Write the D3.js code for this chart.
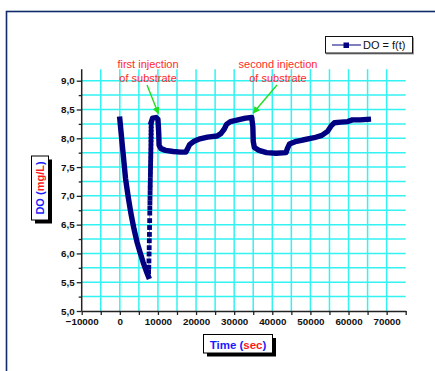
<!DOCTYPE html>
<html>
<head>
<meta charset="utf-8">
<script src="https://cdn.jsdelivr.net/npm/d3@7"></script>
<style>
  html, body { margin: 0; padding: 0; background: #fff; }
  svg { display: block; font-family: "Liberation Sans", Arial, sans-serif; }
</style>
</head>
<body>
<svg id="chart" width="435" height="371"></svg>
<script>
// Dissolved oxygen (mg/L) against time (s)

// Oxygen consumption after start-up
const decayTime = [0, 700, 1500, 2200, 2900, 3700, 4500, 5300, 6100, 6900, 7500];
const decayDO   = [8.33, 7.85, 7.30, 6.98, 6.70, 6.43, 6.20, 6.02, 5.85, 5.70, 5.60];

// Fast re-aeration right after the first substrate injection
const riseTime = [7550, 7600, 7640, 7680, 7710, 7740, 7770, 7800, 7830, 7860,
                  7880, 7900, 7920, 7940, 7960, 7980, 8000, 8020, 8040, 8060,
                  8080, 8100, 8120, 8140, 8160, 8175, 8190, 8200, 8210, 8220, 8230];
const riseDO   = [5.68, 5.76, 5.87, 5.99, 6.10, 6.22, 6.33, 6.45, 6.57, 6.70,
                  6.79, 6.88, 6.96, 7.05, 7.13, 7.20, 7.28, 7.36, 7.43, 7.50,
                  7.57, 7.64, 7.71, 7.78, 7.85, 7.92, 7.98, 8.04, 8.10, 8.16, 8.22];

// Remainder of the run
const restTime = [8250, 8600, 9500, 10000, 10200, 10300, 10800, 12000, 14000, 16000,
                  17300, 17800, 18300, 19500, 21000, 23000, 25500, 26500, 27300, 28000,
                  29000, 31000, 33000, 34600, 34900, 35000, 35300, 36500, 38500, 41000,
                  43600, 44000, 44500, 46000, 48000, 51000, 53000, 54500, 55500, 56300,
                  58000, 59800, 61000, 63000, 65200];
const restDO   = [8.28, 8.35, 8.36, 8.33, 8.10, 7.88, 7.82, 7.79, 7.77, 7.76,
                  7.76, 7.82, 7.89, 7.95, 7.99, 8.02, 8.04, 8.08, 8.15, 8.24,
                  8.29, 8.32, 8.35, 8.36, 8.20, 7.95, 7.84, 7.79, 7.75, 7.74,
                  7.75, 7.83, 7.90, 7.94, 7.97, 8.01, 8.05, 8.12, 8.22, 8.27,
                  8.28, 8.29, 8.32, 8.32, 8.33];

// Axis ticks
const xTicks = d3.range(-10000, 75001, 5000);
const xLabelTicks = [-10000, 0, 10000, 20000, 30000, 40000, 50000, 60000, 70000];
const yTicks = d3.range(5, 9.001, 0.25);
const yLabelTicks = [5.0, 5.5, 6.0, 6.5, 7.0, 7.5, 8.0, 8.5, 9.0];

// Annotations: label lines, label anchor time/DO, arrow target time/DO
const notes = [
  { lines: ["first injection", "of substrate"], at: [7400, 9.22], tip: [10100, 8.43] },
  { lines: ["second injection", "of substrate"], at: [41500, 9.22], tip: [35000, 8.44] }
];

const svg = d3.select("#chart");
const navy = "#000080";

// Page frame
svg.append("rect")
  .attr("x", 6.5).attr("y", 11.5).attr("width", 440).attr("height", 370)
  .attr("fill", "none").attr("stroke", "#102a6a").attr("stroke-width", 1.6);

const x = d3.scaleLinear().domain([-10000, 75000]).range([81.7, 405.7]);
const y = d3.scaleLinear().domain([5, 9.2]).range([311, 69.2]);

// Grid
const grid = svg.append("g").attr("stroke", "#33f2f2").attr("stroke-width", 1.5);
grid.selectAll("line.h").data(yTicks.filter(v => v > 5)).join("line")
  .attr("class", "h")
  .attr("x1", x(-10000)).attr("x2", x(75000))
  .attr("y1", d => y(d)).attr("y2", d => y(d));
grid.selectAll("line.v").data(xTicks.filter(t => t > -10000 && t < 75000)).join("line")
  .attr("class", "v")
  .attr("y1", y(5)).attr("y2", y(9.2))
  .attr("x1", d => x(d)).attr("x2", d => x(d));

// Axes
const fmtY = d => d3.format(".1f")(d).replace(".", ",");
const xAxis = d3.axisBottom(x).tickValues(xTicks).tickSize(4).tickSizeOuter(0).tickPadding(3)
  .tickFormat(d => xLabelTicks.includes(d) ? d3.format("d")(d) : "");
const yAxis = d3.axisLeft(y).tickValues(yTicks).tickSize(5).tickSizeOuter(0).tickPadding(2)
  .tickFormat(d => yLabelTicks.some(v => Math.abs(v - d) < 1e-6) ? fmtY(d) : "");

const gx = svg.append("g").attr("transform", `translate(0,${y(5)})`).call(xAxis);
const gy = svg.append("g").attr("transform", `translate(${x(-10000)},0)`).call(yAxis);
gy.select(".domain").attr("d", `M0,${y(5)}V${y(9.2)}`);
[gx, gy].forEach(g => {
  g.select(".domain").attr("stroke", "#222").attr("stroke-width", 1.5);
  g.selectAll(".tick line").attr("stroke", "#222").attr("stroke-width", 1.3);
  g.selectAll(".tick text").attr("fill", "#111")
    .attr("font-family", "'Liberation Sans', Arial, sans-serif")
    .attr("font-weight", "bold").attr("font-size", 9.8);
});
gy.selectAll(".tick line").attr("x2", d => yLabelTicks.some(v => Math.abs(v - d) < 1e-6) ? -5 : -3);

// Data
const line = d3.line().x(d => x(d[0])).y(d => y(d[1]));
const decay = decayTime.map((t, i) => [t, decayDO[i]]);
const rise = riseTime.map((t, i) => [t, riseDO[i]]);
const rest = restTime.map((t, i) => [t, restDO[i]]);

svg.append("path").datum(rise).attr("d", line)
  .attr("fill", "none").attr("stroke", "#9aa0c0").attr("stroke-width", 1);
svg.selectAll("rect.mk").data(rise).join("rect").attr("class", "mk")
  .attr("x", d => x(d[0]) - 2.4).attr("y", d => y(d[1]) - 2.4)
  .attr("width", 4.8).attr("height", 4.8).attr("fill", navy);
[decay, rest].forEach(seg => {
  svg.append("path").datum(seg).attr("d", line)
    .attr("fill", "none").attr("stroke", navy).attr("stroke-width", 5.4)
    .attr("stroke-linejoin", "round").attr("stroke-linecap", "square");
});

// Annotations
const defs = svg.append("defs");
defs.append("marker").attr("id", "arrow").attr("viewBox", "0 0 10 10")
  .attr("refX", 9).attr("refY", 5).attr("markerWidth", 7).attr("markerHeight", 7)
  .attr("markerUnits", "userSpaceOnUse").attr("orient", "auto")
  .append("path").attr("d", "M0,0L10,5L0,10Z").attr("fill", "#22dd22");

notes.forEach(n => {
  const tx = x(n.at[0]), ty = y(n.at[1]);
  n.lines.forEach((s, i) => {
    svg.append("text").attr("x", tx).attr("y", ty + i * 13.5)
      .attr("text-anchor", "middle").attr("font-size", 11).attr("fill", "#ff2a2a").text(s);
  });
  svg.append("line")
    .attr("x1", tx - 1).attr("y1", ty + 17)
    .attr("x2", x(n.tip[0])).attr("y2", y(n.tip[1]))
    .attr("stroke", "#22dd22").attr("stroke-width", 1.4).attr("marker-end", "url(#arrow)");
});

// Legend
const lg = svg.append("g");
lg.append("rect").attr("x", 326).attr("y", 37.5).attr("width", 88).attr("height", 17).attr("fill", "#999");
lg.append("rect").attr("x", 325.5).attr("y", 36.5).attr("width", 87).attr("height", 16.5)
  .attr("fill", "#fff").attr("stroke", "#111").attr("stroke-width", 1);
lg.append("line").attr("x1", 332).attr("x2", 361).attr("y1", 45).attr("y2", 45)
  .attr("stroke", navy).attr("stroke-width", 1);
lg.append("rect").attr("x", 343.5).attr("y", 42.5).attr("width", 5.5).attr("height", 5.5).attr("fill", navy);
lg.append("text").attr("x", 363).attr("y", 49.3).attr("font-size", 11).attr("fill", "#111").text("DO = f(t)");

// Axis titles in shadowed boxes
function titleBox(bx, by, bw, bh) {
  svg.append("rect").attr("x", bx + 3.5).attr("y", by + 3.5).attr("width", bw).attr("height", bh).attr("fill", "#000");
  svg.append("rect").attr("x", bx).attr("y", by).attr("width", bw).attr("height", bh)
    .attr("fill", "#fff").attr("stroke", "#000").attr("stroke-width", 1);
}
titleBox(203.5, 334.5, 69, 18.5);
const xt = svg.append("text").attr("x", 238).attr("y", 348.5).attr("text-anchor", "middle")
  .attr("font-weight", "bold").attr("font-size", 11.5);
xt.append("tspan").attr("fill", "#1a1aff").text("Time (");
xt.append("tspan").attr("fill", "#ff1a1a").text("sec");
xt.append("tspan").attr("fill", "#1a1aff").text(")");

titleBox(31.5, 156, 17, 64);
const yt = svg.append("text").attr("transform", "translate(44,188) rotate(-90)")
  .attr("text-anchor", "middle").attr("font-weight", "bold").attr("font-size", 11);
yt.append("tspan").attr("fill", "#1a1aff").text("DO (");
yt.append("tspan").attr("fill", "#ff1a1a").text("mg/L");
yt.append("tspan").attr("fill", "#1a1aff").text(")");
</script>
</body>
</html>
